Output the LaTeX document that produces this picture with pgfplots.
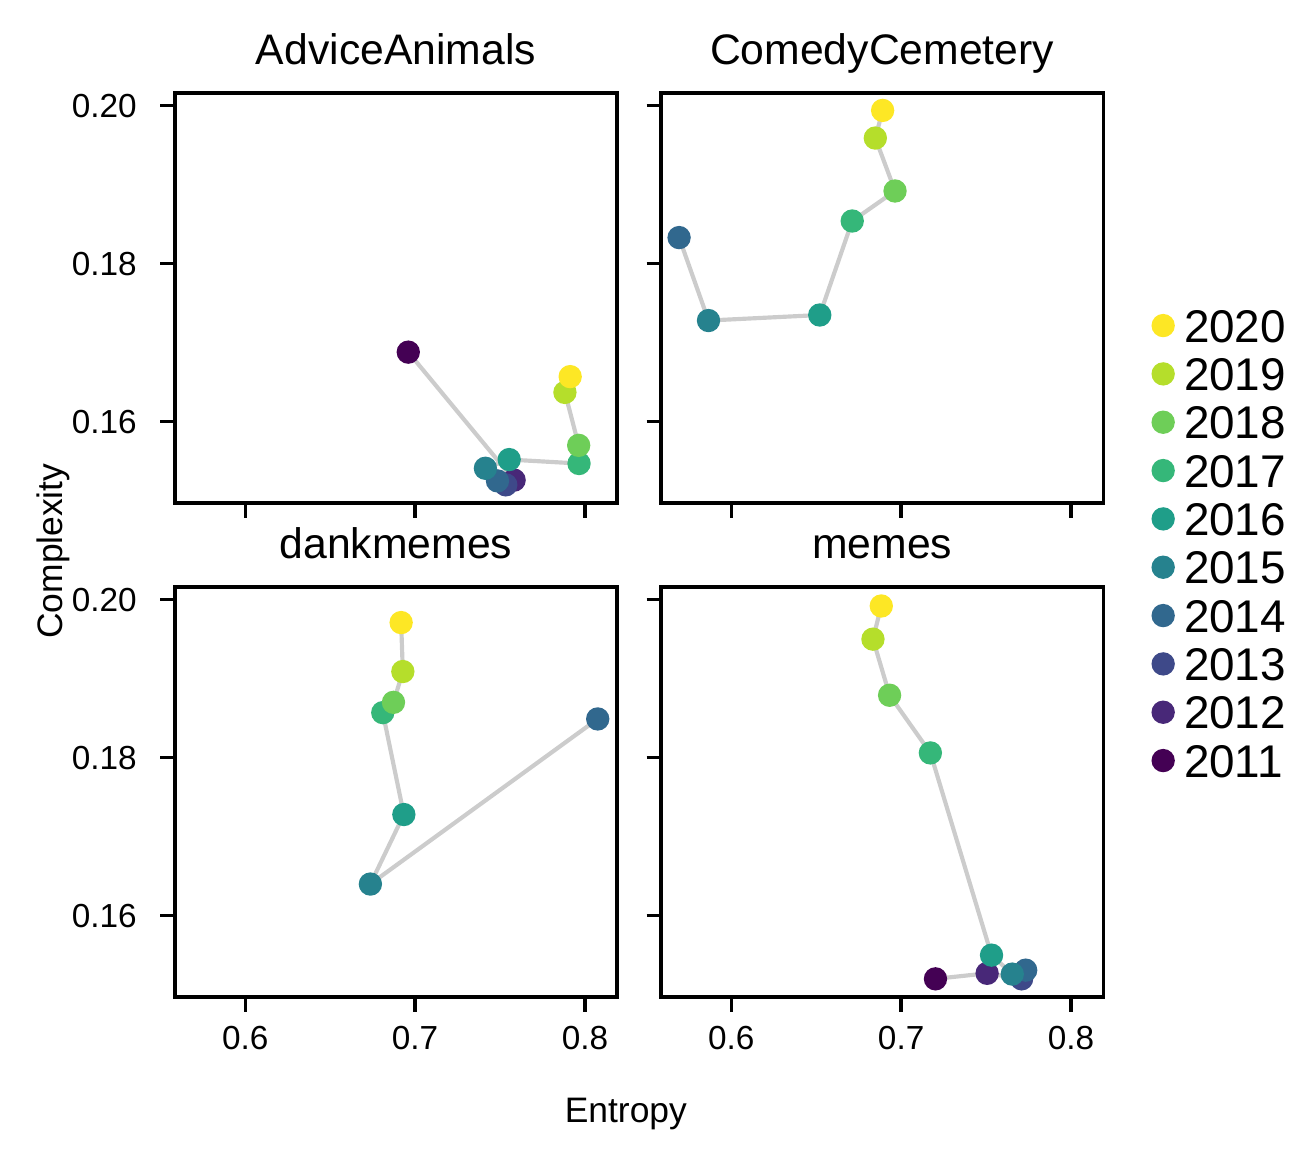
\documentclass[border=0pt]{standalone}
\usepackage{fontspec}
\setmainfont{Liberation Sans}
\usepackage{pgfplots}
\usepackage{pgfplotstable}
\pgfplotsset{compat=1.18}
\usepgfplotslibrary{groupplots}

% viridis, one colour per year
\definecolor{c2011}{HTML}{440154}
\definecolor{c2012}{HTML}{482878}
\definecolor{c2013}{HTML}{3E4989}
\definecolor{c2014}{HTML}{31688E}
\definecolor{c2015}{HTML}{26828E}
\definecolor{c2016}{HTML}{1F9E89}
\definecolor{c2017}{HTML}{35B779}
\definecolor{c2018}{HTML}{6ECE58}
\definecolor{c2019}{HTML}{B5DE2B}
\definecolor{c2020}{HTML}{FDE725}
\definecolor{linegray}{HTML}{CCCCCC}

\pgfplotstableread{
yr   x      y
2011 0.6960 0.1688
2012 0.7583 0.1526
2013 0.7534 0.1520
2014 0.7485 0.1525
2015 0.7414 0.1541
2016 0.7554 0.1552
2017 0.7965 0.1547
2018 0.7963 0.1570
2019 0.7882 0.1637
2020 0.7913 0.1657
}\advice

\pgfplotstableread{
yr   x      y
2014 0.5693 0.1833
2015 0.5866 0.1728
2016 0.6521 0.1735
2017 0.6712 0.1854
2018 0.6964 0.1892
2019 0.6848 0.1959
2020 0.6891 0.1994
}\comedy

\pgfplotstableread{
yr   x      y
2014 0.8075 0.1849
2015 0.6737 0.1640
2016 0.6934 0.1728
2017 0.6810 0.1857
2018 0.6873 0.1870
2019 0.6928 0.1909
2020 0.6918 0.1971
}\dank

\pgfplotstableread{
yr   x      y
2011 0.7202 0.1520
2012 0.7506 0.1527
2013 0.7709 0.1520
2014 0.7733 0.1531
2015 0.7654 0.1526
2016 0.7532 0.1550
2017 0.7172 0.1806
2018 0.6932 0.1879
2019 0.6834 0.1950
2020 0.6883 0.1992
}\memes

\pgfplotsset{
  trail/.style={color=linegray, line width=1pt, no markers, forget plot},
  years/.style={scatter, only marks, mark=*, mark size=2.6pt, forget plot,
    scatter src=explicit symbolic,
    scatter/classes={
      2011={draw=c2011,fill=c2011}, 2012={draw=c2012,fill=c2012},
      2013={draw=c2013,fill=c2013}, 2014={draw=c2014,fill=c2014},
      2015={draw=c2015,fill=c2015}, 2016={draw=c2016,fill=c2016},
      2017={draw=c2017,fill=c2017}, 2018={draw=c2018,fill=c2018},
      2019={draw=c2019,fill=c2019}, 2020={draw=c2020,fill=c2020}}},
}

\begin{document}
\begin{tikzpicture}
\begin{groupplot}[
  group style={group size=2 by 2, horizontal sep=10.56pt, vertical sep=20.16pt,
    xticklabels at=edge bottom, yticklabels at=edge left},
  scale only axis, width=106.1pt, height=98.4pt,
  xmin=0.5587, xmax=0.8189, ymin=0.1497, ymax=0.2016,
  xtick={0.6,0.7,0.8}, ytick={0.16,0.18,0.20},
  axis line style={line width=0.8pt},
  tick align=outside, tick pos=left, major tick length=3.5pt,
  tick style={line width=0.8pt, black},
  /pgf/number format/assume math mode=true,
  tick label style={font=\fontsize{8}{9.6}\selectfont, inner sep=0pt},
  yticklabel style={xshift=-5.5pt, /pgf/number format/fixed,
    /pgf/number format/fixed zerofill, /pgf/number format/precision=2},
  xticklabel style={yshift=-3.4pt, /pgf/number format/fixed,
    /pgf/number format/fixed zerofill, /pgf/number format/precision=1},
  every axis title/.style={at={(0.5,1)}, anchor=base, yshift=6.8pt,
    font=\fontsize{10.25}{12}\selectfont},
]
\nextgroupplot[title={AdviceAnimals}]
\addplot[trail] table[x=x, y=y] {\advice};
\addplot[years] table[x=x, y=y, meta=yr] {\advice};

\nextgroupplot[title={ComedyCemetery}]
\addplot[trail] table[x=x, y=y] {\comedy};
\addplot[years] table[x=x, y=y, meta=yr] {\comedy};

\nextgroupplot[title={dankmemes}]
\addplot[trail] table[x=x, y=y] {\dank};
\addplot[years] table[x=x, y=y, meta=yr] {\dank};

\nextgroupplot[title={memes},
  legend cell align=left,
  legend style={at={(1,1)}, anchor=north west, xshift=11.6pt, yshift=68.35pt,
    draw=none, fill=none, inner sep=0pt, outer sep=0pt,
    row sep=2.05pt, column sep=2.2pt,
    font=\fontsize{11}{13}\selectfont,
    nodes={inner sep=0pt, text height=7.9pt, text depth=0pt}}]
\addplot[trail] table[x=x, y=y] {\memes};
\addplot[years] table[x=x, y=y, meta=yr] {\memes};
\addlegendimage{legend image code/.code={\path (0pt,5.4pt); \fill[c2020] (2.6pt,0pt) circle (2.6pt);}}
\addlegendentry{2020}
\addlegendimage{legend image code/.code={\path (0pt,5.4pt); \fill[c2019] (2.6pt,0pt) circle (2.6pt);}}
\addlegendentry{2019}
\addlegendimage{legend image code/.code={\path (0pt,5.4pt); \fill[c2018] (2.6pt,0pt) circle (2.6pt);}}
\addlegendentry{2018}
\addlegendimage{legend image code/.code={\path (0pt,5.4pt); \fill[c2017] (2.6pt,0pt) circle (2.6pt);}}
\addlegendentry{2017}
\addlegendimage{legend image code/.code={\path (0pt,5.4pt); \fill[c2016] (2.6pt,0pt) circle (2.6pt);}}
\addlegendentry{2016}
\addlegendimage{legend image code/.code={\path (0pt,5.4pt); \fill[c2015] (2.6pt,0pt) circle (2.6pt);}}
\addlegendentry{2015}
\addlegendimage{legend image code/.code={\path (0pt,5.4pt); \fill[c2014] (2.6pt,0pt) circle (2.6pt);}}
\addlegendentry{2014}
\addlegendimage{legend image code/.code={\path (0pt,5.4pt); \fill[c2013] (2.6pt,0pt) circle (2.6pt);}}
\addlegendentry{2013}
\addlegendimage{legend image code/.code={\path (0pt,5.4pt); \fill[c2012] (2.6pt,0pt) circle (2.6pt);}}
\addlegendentry{2012}
\addlegendimage{legend image code/.code={\path (0pt,5.4pt); \fill[c2011] (2.6pt,0pt) circle (2.6pt);}}
\addlegendentry{2011}
\end{groupplot}

\node[rotate=90, anchor=base, font=\fontsize{8.5}{10}\selectfont]
  at ([shift={(-26.9pt,107pt)}]group c1r2.south west) {Complexity};
\node[anchor=base, font=\fontsize{8.5}{10}\selectfont]
  at ([shift={(108.2pt,-30.2pt)}]group c1r2.south west) {Entropy};

\pgfresetboundingbox
\path[use as bounding box] ([shift={(-42pt,239.28pt)}]group c1r2.south west)
  rectangle ([shift={(273.84pt,-39.6pt)}]group c1r2.south west);
\end{tikzpicture}
\end{document}
